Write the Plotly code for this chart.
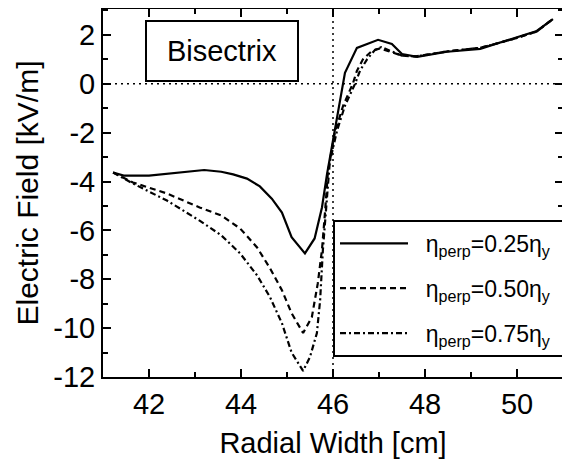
import plotly.graph_objects as go

# ---- data ----
x_025 = [41.22, 41.45, 42.0, 42.6, 43.2, 43.57, 43.83, 44.13, 44.41, 44.67, 44.89, 45.1, 45.39,
         45.6, 45.76, 45.87, 46.0, 46.09, 46.26, 46.52, 46.98, 47.28, 47.5, 47.83, 48.48, 49.2,
         49.9, 50.43, 50.78]
y_025 = [-3.63, -3.76, -3.76, -3.65, -3.53, -3.6, -3.71, -3.88, -4.2, -4.7, -5.27, -6.28, -6.94,
         -6.33, -5.06, -3.7, -2.3, -1.4, 0.45, 1.47, 1.8, 1.63, 1.22, 1.1, 1.31, 1.43,
         1.84, 2.16, 2.65]

x_050 = [41.22, 41.65, 42.39, 43.1, 43.57, 43.98, 44.35, 44.63, 44.89, 45.1, 45.35, 45.54, 45.67,
         45.76, 45.83, 45.89, 46.04, 46.22, 46.43, 46.52, 46.65, 46.85, 47.02, 47.28, 47.5, 47.8,
         48.5, 49.2, 49.9, 50.43, 50.78]
y_050 = [-3.63, -4.04, -4.49, -5.06, -5.39, -5.92, -6.7, -7.55, -8.45, -9.39, -10.2, -9.55, -8.16,
         -6.8, -5.18, -3.6, -2.0, -0.9, 0.0, 0.53, 1.0, 1.35, 1.45, 1.3, 1.15, 1.12,
         1.33, 1.47, 1.82, 2.14, 2.65]

x_075 = [41.22, 41.65, 42.39, 43.1, 43.57, 43.98, 44.35, 44.63, 44.89, 45.1, 45.35, 45.5, 45.65,
         45.72, 45.78, 45.87, 45.93, 46.09, 46.26, 46.48, 46.59, 46.74, 46.91, 47.05, 47.3, 47.5,
         47.8, 48.5, 49.2, 49.9, 50.43, 50.78]
y_075 = [-3.63, -4.08, -4.78, -5.6, -6.2, -6.94, -7.84, -8.73, -9.8, -11.0, -11.75, -11.18, -10.2,
         -8.86, -6.8, -4.78, -3.2, -1.9, -0.9, 0.0, 0.55, 1.0, 1.38, 1.5, 1.3, 1.15,
         1.12, 1.33, 1.47, 1.82, 2.14, 2.65]

names = ["\u00a0\u00a0η<sub>perp</sub>=0.25η<sub>y</sub>\u00a0",
         "\u00a0\u00a0η<sub>perp</sub>=0.50η<sub>y</sub>\u00a0",
         "\u00a0\u00a0η<sub>perp</sub>=0.75η<sub>y</sub>\u00a0"]
dashes = ["solid", "6px,4px", "6px,3px,2px,3px"]

x_ticks = [42, 44, 46, 48, 50]
y_ticks = [2, 0, -2, -4, -6, -8, -10, -12]

FONT = "Liberation Sans, Arial, sans-serif"

fig = go.Figure()
for i, (xs, ys, nm, ds) in enumerate(zip([x_025, x_050, x_075], [y_025, y_050, y_075], names, dashes)):
    fig.add_trace(go.Scatter(x=xs, y=ys, mode="lines", name=nm, legendgroup=f"g{i}",
                             line=dict(color="black", width=2.2, dash=ds)))

# dotted reference lines
fig.add_hline(y=0, line=dict(color="black", width=1.5, dash="2px,4px"), layer="below")
fig.add_vline(x=46, line=dict(color="black", width=1.5, dash="2px,4px"), layer="below")

axis_common = dict(showline=True, linecolor="black", linewidth=2, mirror="ticks",
                   ticks="inside", ticklen=8, tickwidth=2, tickcolor="black",
                   showgrid=False, zeroline=False, automargin=False,
                   tickfont=dict(family=FONT, size=29, color="black"),
                   minor=dict(ticks="inside", ticklen=5, tickwidth=2, tickcolor="black", dtick=1))

fig.update_xaxes(range=[41, 51], tickvals=x_ticks,
                 title=dict(text="Radial Width [cm]", font=dict(family=FONT, size=29, color="black"),
                            standoff=14),
                 **axis_common)
fig.update_yaxes(range=[-12, 3.06], tickvals=y_ticks, ticktext=[str(v) for v in y_ticks],
                 title=dict(text="Electric Field [kV/m]", font=dict(family=FONT, size=30, color="black"),
                            standoff=6),
                 **axis_common)

fig.add_annotation(text="Bisectrix", xref="paper", yref="paper", x=0.258, y=0.886,
                   xanchor="center", yanchor="middle",
                   showarrow=False, bordercolor="black", borderwidth=2, borderpad=0,
                   width=150, height=58, bgcolor="white",
                   font=dict(family=FONT, size=29, color="black"))

# the page has an 8px body margin, so the plot area is shifted by 8px in the screenshot
fig.update_layout(
    width=570, height=466,
    margin=dict(l=95, r=15, t=1, b=97),
    paper_bgcolor="white", plot_bgcolor="white",
    font=dict(family=FONT, color="black"),
    legend=dict(x=0.5, y=0.427, xanchor="left", yanchor="top",
                bordercolor="black", borderwidth=2, bgcolor="white",
                font=dict(family=FONT, size=23, color="black"),
                itemwidth=68, tracegroupgap=12),
)

fig.write_html("out.html")
